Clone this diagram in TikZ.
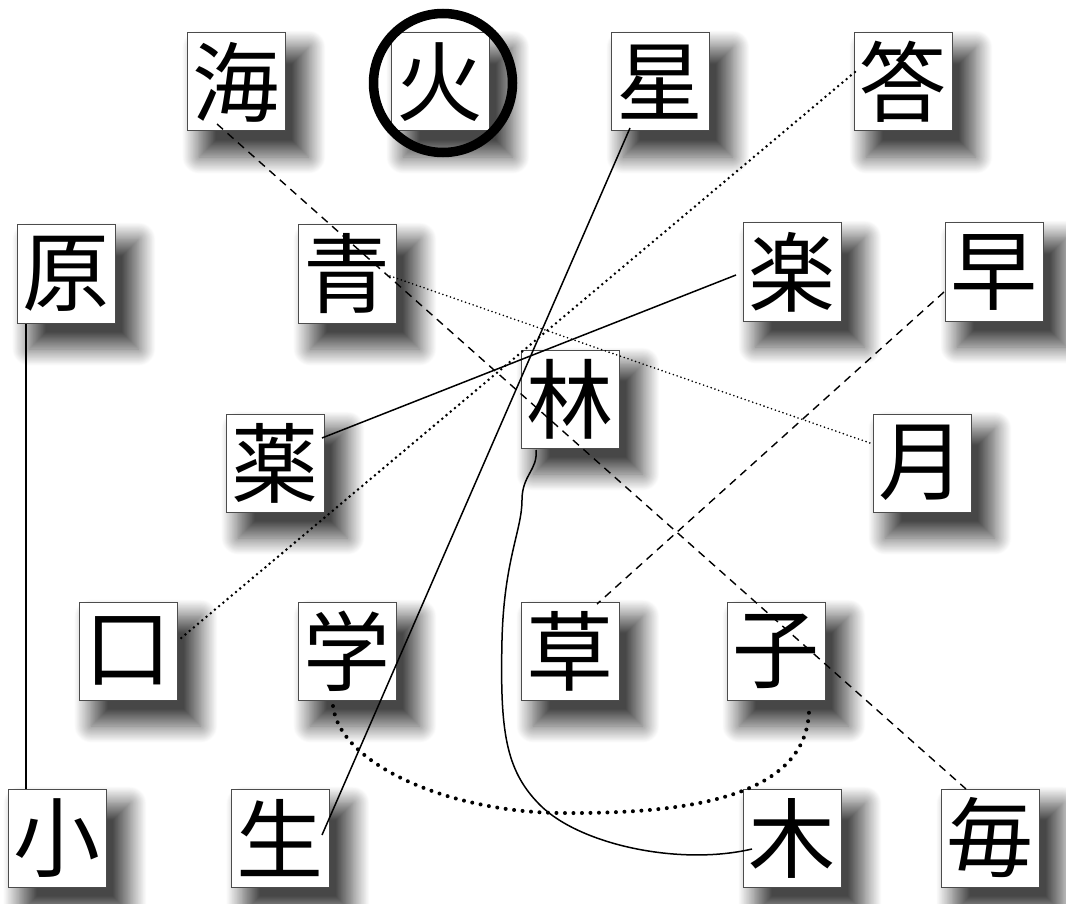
\documentclass[tikz,border=0pt]{standalone}
\usepackage{fontspec}
\newfontfamily\cjk{Noto Sans CJK JP}
\usetikzlibrary{shadows.blur}
\tikzset{
  kbox/.style={draw=black!70, line width=1pt, fill=white, minimum size=98pt, inner sep=0pt,
    font=\cjk\fontsize{87}{87}\selectfont,
    blur shadow={shadow xshift=16pt, shadow yshift=-18pt, shadow scale=1.12, shadow blur radius=15pt, shadow blur steps=24, shadow opacity=72}},
  solidlink/.style={line width=1.5pt, black},
  dashlink/.style={line width=1.4pt, black, dash pattern=on 8pt off 6pt},
  dotlink/.style={line width=2.8pt, black, line cap=round, dash pattern=on 0pt off 5.5pt},
  finedot/.style={line width=1.8pt, black, line cap=round, dash pattern=on 0pt off 4pt},
  bigdot/.style={line width=4pt, black, line cap=round, dash pattern=on 0pt off 8.5pt},
  ring/.style={line width=9.5pt, black}
}
\begin{document}
\begin{tikzpicture}[x=1pt,y=-1pt]
\useasboundingbox (0,0) rectangle (1066,904);
% row 1
\node[kbox] (umi) at (236,82) {海};
\node[kbox] (hi) at (440,82) {火};
\node[kbox] (hoshi) at (660,82) {星};
\node[kbox] (kotae) at (903,82) {答};
% row 2
\node[kbox] (hara) at (66,274) {原};
\node[kbox] (ao) at (347,274) {青};
\node[kbox] (raku) at (792,272) {楽};
\node[kbox] (haya) at (994,272) {早};
% row 3
\node[kbox] (hayashi) at (570,399) {林};
\node[kbox] (kusuri) at (275,463) {薬};
\node[kbox] (tsuki) at (922,463) {月};
% row 4
\node[kbox] (kuchi) at (128,651) {口};
\node[kbox] (gaku) at (347,651) {学};
\node[kbox] (kusa) at (570,651) {草};
\node[kbox] (ko) at (776,651) {子};
% row 5
\node[kbox] (shou) at (57,838) {小};
\node[kbox] (sei) at (280,838) {生};
\node[kbox] (ki) at (792,838) {木};
\node[kbox] (mai) at (990,838) {毎};

% ring around fire
\draw[ring] ([shift={(3,1)}]hi.center) circle (69.5);

% connectors
\draw[dashlink] ([shift={(-19,42)}]umi.center) -- ([shift={(-24,-49)}]mai.center);
\draw[solidlink] ([shift={(-30,46)}]hoshi.center) -- ([shift={(42,-3)}]sei.center);
\draw[dotlink] ([shift={(-48,-10)}]kotae.center) -- ([shift={(52,-12)}]kuchi.center);
\draw[finedot] ([shift={(43,2)}]ao.center) -- ([shift={(-52,-20)}]tsuki.center);
\draw[solidlink] ([shift={(-56,3)}]raku.center) -- ([shift={(47,-25)}]kusuri.center);
\draw[dashlink] ([shift={(-50,20)}]haya.center) -- ([shift={(27,-47)}]kusa.center);
\draw[solidlink] ([shift={(-40,50)}]hara.center) -- ([shift={(-31,-49)}]shou.center);
\draw[solidlink] ([shift={(-34,51)}]hayashi.center)
  .. controls (538,470) and (522,475) .. (522,500)
  .. controls (522,530) and (504,560) .. (502,640)
  .. controls (500,730) and (505,770) .. (540,805)
  .. controls (580,845) and (680,866) .. ([shift={(-40,11)}]ki.center);
\draw[bigdot] ([shift={(-14,55)}]gaku.center)
  .. controls (340,765) and (450,812) .. (560,813)
  .. controls (680,814) and (805,800) .. ([shift={(33,61)}]ko.center);
\end{tikzpicture}
\end{document}
